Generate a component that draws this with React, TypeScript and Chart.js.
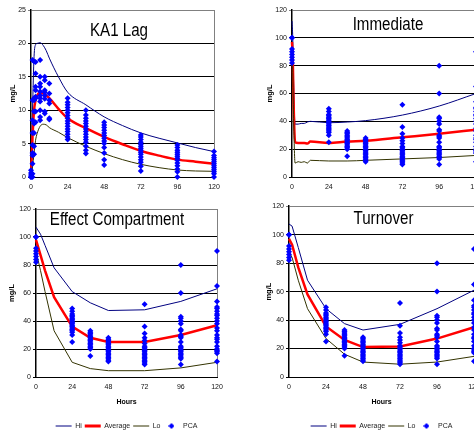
import React, { useEffect, useRef } from "react";
import { Chart, registerables } from "chart.js";

Chart.register(...registerables);

const FONT = "'Liberation Sans', Arial, sans-serif";
Chart.defaults.font.family = FONT;

// ---------- Panel 1: KA1 Lag ----------
const ka1Times = [0, 1, 2, 3, 4, 6, 8, 10, 12, 18, 24, 36, 48, 60, 72, 84, 96, 108, 120];
const ka1Hi = [0, 10, 18, 19.8, 20, 20.1, 19.7, 18.9, 17.8, 15, 12.7, 10.8, 9, 7.7, 6.6, 5.8, 5.1, 4.4, 3.8];
const ka1Avg = [0, 6, 10, 11.5, 12.2, 12.6, 12.5, 12.2, 11.8, 10.2, 8.8, 7.3, 6, 4.9, 3.9, 3.2, 2.6, 2.3, 2.0];
const ka1Lo = [0, 1.5, 3.5, 5.5, 6.5, 7.6, 7.9, 7.8, 7.4, 6.7, 5.9, 4.6, 3.5, 2.6, 1.9, 1.4, 1.05, 0.9, 0.85];
const ka1PcaHours = [0, 1, 2, 3, 6, 9, 12, 24, 36, 48, 72, 96, 120];
const ka1PcaConc = [
  [0, 0, 0.3, 0.6, 1.0],
  [17.5, 11.5, 8.5, 6.6, 4.8, 3.6, 3.2, 2.0, 0.5, 0],
  [17.3, 11.8, 11.5, 9.8, 8.0, 6.6, 4.6, 3.4],
  [17.2, 15.5, 13.5, 13.0, 12.0, 11.8, 9.8, 8.2],
  [17.5, 15.0, 14.0, 13.5, 12.8, 12.2, 11.8, 11.3, 10.0, 9.0, 8.5],
  [15.0, 14.5, 13.0, 12.7, 12.2, 11.7, 9.8, 9.5],
  [14.0, 12.5, 11.5, 11.0, 8.8, 8.6],
  [11.8, 11.2, 10.8, 10.4, 10.0, 9.6, 9.2, 8.8, 8.4, 8.0, 7.6, 7.2, 6.8, 6.4, 6.0, 5.6],
  [10.0, 9.3, 8.8, 8.4, 8.0, 7.6, 7.2, 6.8, 6.4, 6.0, 5.6, 5.2, 4.6, 4.0, 3.5],
  [8.2, 7.8, 7.4, 7.0, 6.6, 6.2, 5.8, 5.4, 5.0, 4.4, 3.6, 2.6, 1.8],
  [6.3, 6.0, 5.6, 5.2, 4.9, 4.6, 4.3, 4.0, 3.7, 3.4, 3.0, 2.6, 2.2, 1.6, 0.9],
  [4.8, 4.4, 4.0, 3.7, 3.4, 3.1, 2.8, 2.5, 2.1, 1.7, 1.2, 0.8, 0],
  [3.8, 3.2, 2.9, 2.6, 2.3, 2.0, 1.7, 1.4, 1.1, 0.8, 0.5, 0],
];

// ---------- Shared PCA observations (panels 2-4) ----------
const pcaHours = [0, 24, 36, 48, 72, 96, 120];
const pcaConc = [
  [100, 100, 92, 90, 88, 86, 84, 82],
  [49, 47, 45, 44, 43, 42, 41, 40, 39, 38, 37, 36, 35, 34, 33, 32, 30, 25],
  [33, 32, 31, 30, 29, 28, 27, 26, 25, 24, 23, 22, 21, 20, 15],
  [28, 27, 26, 25, 24, 23, 22, 21, 20, 19, 18, 17, 16, 15, 14, 13, 12, 11],
  [52, 36, 31, 28, 26, 24, 22, 21, 20, 19, 18, 17, 16, 15, 14, 13, 12, 11, 10, 9],
  [80, 60, 43, 42, 40, 38, 34, 33, 30, 29, 28, 25, 22, 21, 20, 19, 18, 17, 16, 15, 14, 13, 9],
  [90, 65, 54, 50, 49, 47, 45, 44, 42, 40, 38, 35, 33, 30, 28, 27, 25, 22, 20, 19, 18, 17, 11],
];

// ---------- Panel 2: Immediate ----------
const immTimes = [0, 0.5, 1, 2, 4, 6, 8, 10, 12, 24, 36, 48, 72, 96, 120];
const immHi = [112, 100, 70, 38, 38, 38.5, 38.5, 39.5, 40, 39, 39.5, 40.5, 44.5, 51, 60];
const immAvg = [97, 85, 55, 25, 24.5, 24.5, 24.5, 24, 25.5, 24.5, 25.5, 26, 28.5, 31, 34];
const immLo = [88, 75, 45, 10, 11, 10.5, 11, 10, 12, 11.5, 11.5, 12, 13, 14, 15.5];

// ---------- Panel 3: Effect Compartment ----------
const effTimes = [0, 3, 6, 12, 24, 36, 48, 72, 96, 120];
const effHi = [107, 102, 94, 78, 61, 53, 47.5, 48, 54, 63];
const effAvg = [98, 87, 76, 57, 36, 28, 25, 25, 30, 37];
const effLo = [90, 76, 61, 33, 10.5, 6, 4.5, 4.5, 6.5, 10.5];

// ---------- Panel 4: Turnover ----------
const turnTimes = [0, 2, 6, 12, 24, 36, 48, 72, 96, 120];
const turnHi = [107.5, 106, 91, 68, 48, 37.5, 33, 37, 48, 61];
const turnAvg = [97, 93, 77, 58, 35.5, 26, 21, 21.5, 27, 35];
const turnLo = [88, 84, 68, 48, 27, 16, 10.5, 9, 10.5, 14.5];

const HI_COLOR = "#000080";
const AVG_COLOR = "#FF0000";
const LO_COLOR = "#333300";
const PCA_COLOR = "#0000FF";

let diamondCanvas: HTMLCanvasElement | null = null;
function getDiamond() {
  if (!diamondCanvas) {
    const c = document.createElement("canvas");
    c.width = 6;
    c.height = 6;
    const g = c.getContext("2d")!;
    g.fillStyle = PCA_COLOR;
    g.beginPath();
    g.moveTo(3, 0);
    g.lineTo(6, 3);
    g.lineTo(3, 6);
    g.lineTo(0, 3);
    g.closePath();
    g.fill();
    diamondCanvas = c;
  }
  return diamondCanvas;
}

function lineDs(label: string, times: number[], values: number[], color: string, width: number, smooth: boolean, order: number) {
  return {
    label,
    data: times.map((t, i) => ({ x: t, y: values[i] })),
    showLine: true,
    borderColor: color,
    backgroundColor: color,
    borderWidth: width,
    pointRadius: 0,
    pointHoverRadius: 0,
    cubicInterpolationMode: smooth ? "monotone" : "default",
    tension: 0,
    fill: false,
    clip: false,
    order,
  };
}

function pcaDs(hours: number[], conc: number[][]) {
  const data: { x: number; y: number }[] = [];
  hours.forEach((h, i) => conc[i].forEach((v) => data.push({ x: h, y: v })));
  return {
    label: "PCA",
    data,
    showLine: false,
    pointStyle: "rectRot",
    pointRadius: 3,
    pointHoverRadius: 3,
    backgroundColor: PCA_COLOR,
    borderColor: PCA_COLOR,
    borderWidth: 0,
    clip: false,
    order: 0,
  };
}

const panelDecor = {
  id: "panelDecor",
  beforeDatasetsDraw(chart: any) {
    const { ctx, chartArea } = chart;
    ctx.save();
    ctx.strokeStyle = "#808080";
    ctx.lineWidth = 1;
    ctx.beginPath();
    const x = Math.round(chartArea.right) + 0.5;
    ctx.moveTo(x, chartArea.top);
    ctx.lineTo(x, chartArea.bottom);
    ctx.stroke();
    ctx.restore();
  },
  afterDatasetsDraw(chart: any, _args: any, opts: any) {
    if (!opts || !opts.text) return;
    const { ctx } = chart;
    ctx.save();
    ctx.font = `17.5px ${FONT}`;
    ctx.fillStyle = "#000";
    ctx.textAlign = "center";
    ctx.textBaseline = "middle";
    ctx.translate(opts.x, opts.y);
    ctx.scale(opts.squeeze, 1);
    ctx.fillText(opts.text, 0, 0);
    ctx.restore();
  },
};

type Panel = {
  left: number; top: number; w: number; h: number;
  areaL: number; areaR: number; areaT: number; areaB: number;
  yTitleX: number; yMax: number; yStep: number;
  title: string; titleX: number; titleY: number;
  withLegend: boolean;
  datasets: any[];
};

const smoothOn = true;

const panels: Panel[] = [
  {
    left: 0, top: 0, w: 240, h: 200, areaL: 31, areaR: 214, areaT: 10, areaB: 177,
    yTitleX: 12.5, yMax: 25, yStep: 5, title: "KA1 Lag", titleX: 119, titleY: 31.5, withLegend: false,
    datasets: [
      lineDs("Hi", ka1Times, ka1Hi, HI_COLOR, 1, smoothOn, 3),
      lineDs("Average", ka1Times, ka1Avg, AVG_COLOR, 2.5, smoothOn, 2),
      lineDs("Lo", ka1Times, ka1Lo, LO_COLOR, 1, smoothOn, 1),
      pcaDs(ka1PcaHours, ka1PcaConc),
    ],
  },
  {
    left: 240, top: 0, w: 260, h: 200, areaL: 52, areaR: 236, areaT: 10, areaB: 177,
    yTitleX: 29.5, yMax: 120, yStep: 20, title: "Immediate", titleX: 148, titleY: 25, withLegend: false,
    datasets: [
      lineDs("Hi", immTimes, immHi, HI_COLOR, 1, smoothOn, 3),
      lineDs("Average", immTimes, immAvg, AVG_COLOR, 2.5, smoothOn, 2),
      lineDs("Lo", immTimes, immLo, LO_COLOR, 1, smoothOn, 1),
      pcaDs(pcaHours, pcaConc),
    ],
  },
  {
    left: 0, top: 200, w: 240, h: 240, areaL: 36, areaR: 217, areaT: 9, areaB: 177,
    yTitleX: 12, yMax: 120, yStep: 20, title: "Effect Compartment", titleX: 117, titleY: 19.7, withLegend: true,
    datasets: [
      lineDs("Hi", effTimes, effHi, HI_COLOR, 1, false, 3),
      lineDs("Average", effTimes, effAvg, AVG_COLOR, 2.5, false, 2),
      lineDs("Lo", effTimes, effLo, LO_COLOR, 1, false, 1),
      pcaDs(pcaHours, pcaConc),
    ],
  },
  {
    left: 240, top: 200, w: 260, h: 240, areaL: 49, areaR: 234, areaT: 6, areaB: 177,
    yTitleX: 28.5, yMax: 120, yStep: 20, title: "Turnover", titleX: 143.5, titleY: 19.3, withLegend: true,
    datasets: [
      lineDs("Hi", turnTimes, turnHi, HI_COLOR, 1, false, 3),
      lineDs("Average", turnTimes, turnAvg, AVG_COLOR, 2.5, false, 2),
      lineDs("Lo", turnTimes, turnLo, LO_COLOR, 1, false, 1),
      pcaDs(pcaHours, pcaConc),
    ],
  },
];

function buildConfig(p: Panel): any {
  const yTitleFont = 7.5;
  const yTitleLH = yTitleFont * 1.2;
  const padLeft = p.yTitleX - yTitleLH / 2;
  const yWidth = p.areaL - padLeft;
  const legendH = 20; // itemHeight(7) + padding(3) + 10
  const xHeight = p.withLegend ? 42.5 : p.h - p.areaB;
  const padBottom = p.withLegend ? p.h - p.areaB - xHeight - legendH : 0;
  return {
    type: "scatter",
    data: { datasets: p.datasets },
    plugins: [panelDecor],
    options: {
      responsive: false,
      animation: false,
      events: [],
      layout: { padding: { left: padLeft, right: p.w - p.areaR, top: p.areaT, bottom: padBottom } },
      scales: {
        x: {
          type: "linear",
          min: 0,
          max: 120,
          afterFit: (s: any) => { s.height = xHeight; },
          ticks: { stepSize: 24, color: "#111", font: { size: 7 }, padding: 6, maxRotation: 0 },
          grid: { display: false, drawTicks: false },
          border: { display: true, color: "#000", width: 1 },
          title: {
            display: p.withLegend,
            text: "Hours",
            color: "#000",
            font: { size: 7, weight: "bold" },
            padding: { top: 0, bottom: 13.3 },
          },
        },
        y: {
          type: "linear",
          min: 0,
          max: p.yMax,
          afterFit: (s: any) => { s.width = yWidth; },
          ticks: { stepSize: p.yStep, color: "#111", font: { size: 7 }, padding: 2 },
          grid: {
            color: (c: any) => (c.tick && c.tick.value === p.yMax ? "#808080" : "#000"),
            lineWidth: 1,
            drawTicks: true,
            tickLength: 3,
          },
          border: { display: true, color: "#000", width: 1.5 },
          title: {
            display: true,
            text: "mg/L",
            color: "#000",
            font: { size: yTitleFont, weight: "bold" },
            padding: { top: 0, bottom: 0 },
          },
        },
      },
      plugins: {
        tooltip: { enabled: false },
        panelDecor: { text: p.title, x: p.titleX, y: p.titleY, squeeze: 0.865 },
        legend: {
          display: p.withLegend,
          position: "bottom",
          fullSize: false,
          labels: {
            usePointStyle: true,
            pointStyleWidth: 16,
            boxHeight: 7,
            padding: 3,
            color: "#222",
            font: { size: 7 },
            generateLabels: (chart: any) => {
              const items = Chart.defaults.plugins.legend.labels.generateLabels(chart);
              items.forEach((it: any) => {
                const ds = chart.data.datasets[it.datasetIndex];
                if (ds.label === "PCA") {
                  it.pointStyle = getDiamond();
                } else {
                  it.pointStyle = "line";
                  it.lineWidth = ds.label === "Average" ? 3 : 1;
                  it.strokeStyle = ds.borderColor;
                  it.fillStyle = ds.borderColor;
                }
              });
              return items.sort((a: any, b: any) => a.datasetIndex - b.datasetIndex);
            },
          },
        },
      },
    },
  };
}

function ChartPanel({ panel }: { panel: Panel }) {
  const ref = useRef<HTMLCanvasElement>(null);
  useEffect(() => {
    const chart = new Chart(ref.current as HTMLCanvasElement, buildConfig(panel));
    return () => chart.destroy();
  }, [panel]);
  return (
    <canvas
      ref={ref}
      width={panel.w}
      height={panel.h}
      style={{ position: "absolute", left: panel.left, top: panel.top, width: panel.w, height: panel.h }}
    />
  );
}

export default function App() {
  return (
    <div
      style={{
        position: "fixed",
        left: 0,
        top: 0,
        width: 474,
        height: 431,
        overflow: "hidden",
        background: "#fff",
      }}
    >
      {panels.map((p, i) => (
        <ChartPanel key={i} panel={p} />
      ))}
    </div>
  );
}
